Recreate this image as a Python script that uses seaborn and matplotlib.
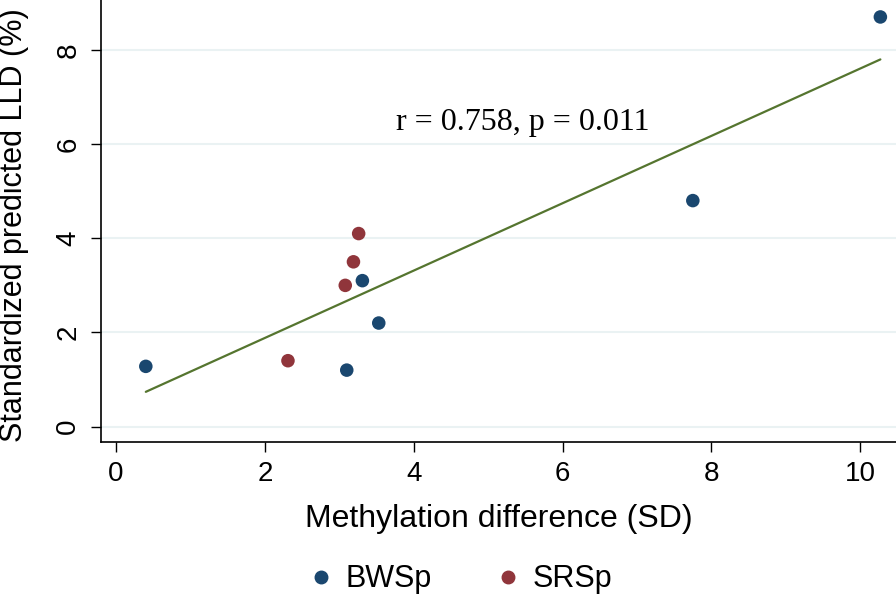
import seaborn as sns
import matplotlib.pyplot as plt
import pandas as pd

# values
bwsp_x = [0.40, 3.10, 3.31, 3.53, 7.75, 10.27]
bwsp_y = [1.28, 1.20, 3.10, 2.20, 4.80, 8.70]
srsp_x = [2.31, 3.08, 3.19, 3.26]
srsp_y = [1.40, 3.00, 3.50, 4.10]
groups = ["BWSp", "SRSp"]
annot = "r = 0.758, p = 0.011"

df = pd.DataFrame({
    "x": bwsp_x + srsp_x,
    "y": bwsp_y + srsp_y,
    "group": [groups[0]] * len(bwsp_x) + [groups[1]] * len(srsp_x),
})

sns.set_style("white")
plt.rcParams["font.family"] = ["Liberation Sans", "DejaVu Sans"]
plt.rcParams["text.color"] = "black"
plt.rcParams["axes.labelcolor"] = "black"
plt.rcParams["xtick.color"] = "black"
plt.rcParams["ytick.color"] = "black"

fig = plt.figure(figsize=(8.96, 5.96), dpi=100)
ax = fig.add_axes([0.1124, 0.2589, 0.8876, 0.7411])

for yv in [0, 2, 4, 6, 8]:
    ax.axhline(yv, color="#eaf2f3", lw=1.5, zorder=0)

sns.regplot(data=df, x="x", y="y", ci=None, scatter=False, ax=ax,
            line_kws={"color": "#55752f", "lw": 1.6})
sns.scatterplot(data=df, x="x", y="y", hue="group", ax=ax,
                palette={"BWSp": "#1a476f", "SRSp": "#90353b"},
                s=95, edgecolor="none", legend=False, zorder=3)

ax.text(5.46, 6.45, annot, ha="center", va="center", fontsize=23,
        family=["Liberation Serif", "DejaVu Serif"])

ax.set_xlim(-0.206, 10.48)
ax.set_ylim(-0.32, 9.06)
ax.set_xticks([0, 2, 4, 6, 8, 10])
ax.set_yticks([0, 2, 4, 6, 8])
ax.tick_params(axis="both", labelsize=20, length=7, width=1, direction="out",
               bottom=True, left=True, color="black", labelcolor="black", pad=7)
ax.tick_params(axis="y", labelrotation=90)
for lbl in ax.get_yticklabels():
    lbl.set_va("center")

ax.set_xlabel("Methylation difference (SD)", fontsize=23, labelpad=12)
ax.set_ylabel("Standardized predicted LLD (%)", fontsize=22, labelpad=8)
ax.yaxis.set_label_coords(-0.09, 0.49)

sns.despine(ax=ax)
for sp in ["left", "bottom"]:
    ax.spines[sp].set_color("black")
    ax.spines[sp].set_linewidth(1.2)

handles = [plt.Line2D([], [], marker="o", ls="", color=c, markersize=9)
           for c in ["#1a476f", "#90353b"]]
fig.legend(handles, groups, loc="center", bbox_to_anchor=(0.512, 0.028),
           ncol=2, frameon=False, fontsize=22, handletextpad=0.3,
           columnspacing=2.0, handlelength=1.0)

fig.savefig("out.png", dpi=100)
